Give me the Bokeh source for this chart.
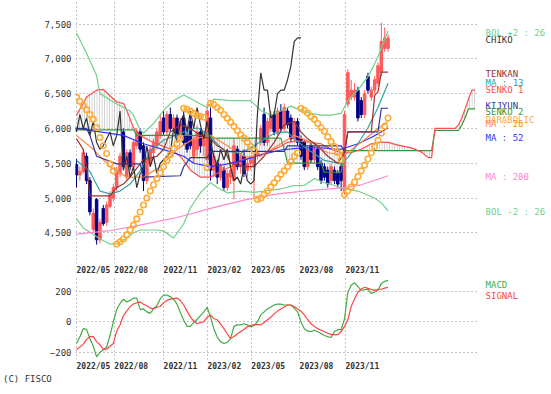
from bokeh.plotting import figure
from bokeh.models import Range1d, FixedTicker, NumeralTickFormatter, Label, ColumnDataSource, Div
from bokeh.layouts import column
from bokeh.embed import file_html
from bokeh.resources import INLINE

# ---------------- data ----------------
date_pos = [0, 11.3, 26, 39.1, 52.2, 66.6, 80.3]
date_labels = ["2022/05", "2022/08", "2022/11", "2023/02", "2023/05", "2023/08", "2023/11"]
price_ticks = [4500, 5000, 5500, 6000, 6500, 7000, 7500]
macd_ticks = [-200, 0, 200]

opens = [5480, 5330, 5380, 5600, 5250, 4550, 4980, 4400, 4850, 4650, 4880, 5000, 5150, 5350, 5950, 5300,
         5650, 5450, 5750, 5950, 5750, 5250, 5500, 5650, 5750, 5900, 6150, 5950, 6200, 6000, 6150, 5900,
         6150, 5900, 6100, 5600, 5700, 5950, 5750, 5550, 6150, 5400, 5500, 5300, 5400, 5150, 5300, 5250,
         5700, 5450, 5600, 5400, 5500, 5450, 5600, 5800, 6200, 5800, 6000, 6200, 5950, 6250, 6000, 6250,
         6150, 5850, 6100, 5850, 5800, 5450, 5750, 5550, 5700, 5500, 5450, 5400, 5250, 5400, 5350, 5450,
         5100, 6350, 6450, 6450, 6550, 6400, 6200, 6750, 6450, 6550, 6650, 6800, 7150, 7150]
highs = [5560, 5450, 5700, 5650, 5300, 4850, 5000, 4700, 4900, 4950, 5100, 5200, 5450, 5650, 6000, 5700,
         5700, 5850, 6000, 6000, 5800, 5600, 5750, 5850, 6000, 6200, 6250, 6250, 6300, 6200, 6200, 6150,
         6250, 6000, 6200, 5900, 6050, 6000, 5950, 6350, 6300, 5650, 5550, 5500, 5450, 5400, 5450, 5850,
         5750, 5650, 5700, 5550, 5600, 5650, 5700, 6050, 6300, 6150, 6250, 6250, 6300, 6350, 6360, 6300,
         6200, 6150, 6150, 5900, 5850, 5750, 5800, 5750, 5750, 5550, 5500, 5450, 5500, 5450, 5400, 5500,
         6250, 6850, 6700, 6650, 6600, 6450, 6550, 6800, 6600, 6750, 6950, 7520, 7450, 7350]
lows = [5150, 5250, 5350, 5200, 4750, 4500, 4330, 4350, 4600, 4600, 4850, 4950, 5100, 5300, 5400, 5250,
        5400, 5400, 5700, 5650, 5100, 5200, 5450, 5600, 5700, 5850, 5900, 5900, 5950, 5950, 5850, 5850,
        5750, 5650, 5700, 5500, 5600, 5650, 5600, 5500, 5250, 5300, 5200, 5250, 5100, 5100, 5200, 4980,
        5400, 5350, 5300, 5300, 5400, 5000, 5550, 5750, 5750, 5750, 5950, 5900, 5900, 5950, 5950, 6000,
        5800, 5800, 5750, 5550, 5400, 5400, 5500, 5500, 5400, 5200, 5250, 5150, 5200, 5200, 5150, 5100,
        5050, 6300, 6400, 6400, 6100, 6150, 6150, 6500, 6400, 6500, 6600, 6750, 7100, 7100]
closes = [5330, 5380, 5650, 5250, 4800, 4780, 4400, 4650, 4630, 4900, 5050, 5150, 5400, 5600, 5450, 5650,
          5450, 5800, 5950, 5700, 5250, 5550, 5700, 5800, 5950, 6100, 5950, 6200, 6000, 6150, 5900, 6100,
          5800, 5700, 5750, 5850, 5950, 5750, 5900, 6250, 5400, 5600, 5300, 5450, 5150, 5350, 5400, 5750,
          5450, 5600, 5350, 5500, 5550, 5600, 5650, 6000, 5800, 6100, 6200, 5950, 6250, 6000, 6300, 6050,
          5850, 6100, 5800, 5600, 5450, 5700, 5550, 5700, 5450, 5250, 5300, 5200, 5450, 5250, 5200, 5250,
          6200, 6800, 6550, 6550, 6150, 6200, 6500, 6550, 6550, 6700, 6900, 7250, 7300, 7300]

parabolic = [6450, 6390, 6330, 6270, 6200, 6130, 6010, 5870, 5750, 5640, 5490, 5390,
             4340, 4370, 4410, 4470, 4540, 4610, 4700, 4800, 4900, 5000, 5100, 5190, 5280, 5360, 5450, 5540,
             5620, 5710, 5780, 5860,
             6290, 6275, 6245, 6215, 6190, 6175, 6160,
             5440,
             6360, 6345, 6300, 6260, 6200, 6145, 6090, 6030, 5970, 5910, 5860, 5800, 5740, 5680,
             4980, 5000, 5050, 5100, 5160, 5220, 5280, 5340, 5390, 5450, 5520, 5600, 5650,
             6290, 6260, 6220, 6170, 6130, 6070, 6010, 5960, 5880, 5810, 5740, 5650, 5550,
             5050, 5100, 5160, 5230, 5310, 5390, 5470, 5560, 5650, 5740, 5830, 5930, 6030, 6150]

bol_up_idx = [0, 3, 6, 7, 9, 11, 14, 16, 17, 19, 20, 23, 26, 29, 32, 34, 37, 39, 41, 46, 52, 55, 58, 61,
              64, 67, 70, 73, 76, 79, 81, 84, 87, 90, 92, 93]
bol_up = [7370, 7080, 6760, 6500, 6440, 6380, 6300, 6250, 6190, 5980, 5930, 6070, 6260, 6400, 6480, 6430,
          6350, 6300, 6420, 6400, 6400, 6260, 6190, 6250, 6320, 6260, 6215, 6190, 6190, 6215, 6400, 6550,
          6740, 7030, 7280, 7400]
bol_dn_idx = [0, 2, 5, 7, 10, 12, 15, 17, 19, 24, 26, 29, 32, 34, 36, 37, 40, 42, 45, 49, 53, 61, 65, 68,
              71, 74, 77, 80, 84, 89, 91, 93]
bol_dn = [4700, 4570, 4480, 4410, 4340, 4340, 4425, 4500, 4540, 4540, 4525, 4425, 4630, 4860, 5000, 5075,
          5220, 5150, 5075, 5100, 5080, 5130, 5180, 5180, 5280, 5220, 5180, 5130, 5100, 5000, 4930, 4815]
ma200_idx = [0, 10, 20, 30, 40, 50, 60, 70, 80, 85, 90, 93]
ma200 = [4480, 4530, 4620, 4720, 4850, 4970, 5060, 5110, 5150, 5190, 5270, 5320]
ma52_idx = [0, 7, 14, 20, 27, 32, 35, 40, 44, 49, 55, 61, 67, 73, 79, 84, 88, 91, 93]
ma52 = [6000, 5950, 5900, 5780, 5680, 5600, 5500, 5450, 5480, 5530, 5620, 5690, 5720, 5720, 5700, 5780,
        5870, 5950, 6010]
ma26_idx = [0, 5, 10, 15, 20, 25, 30, 35, 40, 45, 50, 55, 60, 65, 70, 75, 80, 85, 90, 93]
ma26 = [5900, 5700, 5450, 5300, 5300, 5450, 5700, 5850, 5900, 5750, 5600, 5600, 5750, 5900, 5800, 5650,
        5620, 5800, 6000, 6100]
ma13_idx = [0, 4, 7, 10, 13, 16, 19, 22, 26, 31, 36, 39, 44, 49, 54, 59, 63, 65, 69, 74, 79, 81, 84, 87,
            90, 93]
ma13 = [5540, 5380, 5100, 5060, 5100, 5200, 5390, 5680, 5830, 5930, 6010, 5930, 5680, 5640, 5780, 5930,
        5950, 5850, 5700, 5540, 5490, 5580, 5780, 6010, 6300, 6650]
tenkan_idx = [0, 2, 3, 4, 10, 12, 14, 16, 18, 20, 24, 26, 28, 31, 34, 37, 40, 42, 44, 46, 50, 53, 56, 59,
              62, 65, 67, 69, 72, 75, 78, 80, 81, 88, 89, 90, 91, 93]
tenkan = [5850, 5700, 5450, 5030, 5030, 5150, 5200, 5300, 5430, 5550, 5600, 5700, 5950, 6050, 6000, 5900,
          5850, 5750, 5700, 5500, 5450, 5450, 5600, 5800, 6050, 6100, 5950, 5850, 5750, 5600, 5500, 5650,
          5950, 5950, 6475, 6525, 6810, 6810]
kijyun_idx = [0, 3, 4, 6, 12, 19, 20, 31, 32, 34, 39, 40, 62, 63, 79, 80, 81, 90, 91, 93]
kijyun = [6000, 6000, 5900, 5600, 5490, 5490, 5300, 5320, 5450, 5580, 5580, 5670, 5670, 5750, 5750, 5660,
          5950, 5950, 6290, 6290]
senko1_idx = [0, 3, 6, 8, 12, 14, 15, 17, 19, 22, 25, 28, 31, 34, 37, 40, 43, 46, 50, 55, 60, 63, 66, 70,
              73, 76, 79, 82, 85, 88, 90, 93, 96, 100, 103, 105, 106, 107, 113, 114, 115, 116, 117, 118, 119]
senko1 = [6190, 6450, 6550, 6560, 6380, 6360, 6260, 6010, 5900, 5820, 5760, 5700, 5600, 5400, 5300, 5300,
          5380, 5450, 5560, 5620, 5720, 5800, 5820, 5800, 5780, 5700, 5650, 5650, 5700, 5780, 5800, 5800,
          5760, 5720, 5660, 5580, 5580, 6000, 6000, 6050, 6150, 6280, 6420, 6550, 6550]
senko2_idx = [0, 17, 18, 39, 40, 61, 62, 63, 73, 74, 79, 80, 106, 107, 114, 115, 116, 117, 119]
senko2 = [5980, 5980, 5900, 5900, 5860, 5860, 5700, 5500, 5500, 5370, 5370, 5680, 5680, 5970, 5970, 6050,
          6150, 6280, 6280]

macd = [-142, -100, -45, -50, -110, -160, -230, -200, -185, -165, -90, 0, 80, 120, 148, 130, 140, 155, 155,
        80, 84, 65, 55, 85, 105, 150, 174, 174, 165, 148, 116, 60, 10, -30, -30, -5, 15, 40, 65, 95, 30,
        -45, -100, -130, -142, -135, -110, -30, -20, -20, -13, -20, -32, -25, 0, 45, 65, 84, 97, 110, 116,
        116, 110, 110, 110, 90, 65, 0, -45, -60, -64, -55, -65, -77, -90, -97, -103, -64, -52, -52, 19, 194,
        239, 255, 230, 206, 210, 213, 185, 195, 206, 250, 265, 271]
signal = [-181, -165, -148, -115, -97, -97, -130, -150, -181, -178, -160, -142, -60, -19, 40, 70, 100, 116,
          125, 129, 115, 105, 90, 85, 95, 100, 125, 140, 148, 152, 155, 140, 110, 70, 32, 5, -13, -5, 0, 30,
          45, 20, 13, -15, -45, -80, -110, -97, -80, -64, -50, -32, -25, -19, -19, -19, -5, 13, 30, 52, 70,
          84, 97, 110, 110, 100, 84, 70, 45, 15, -13, -30, -45, -55, -64, -75, -84, -84, -84, -64, -30, 13,
          100, 150, 194, 215, 226, 219, 212, 206, 213, 213, 220, 226]

label_texts = ["BOL +2 : 26", "CHIKO", "TENKAN", "MA : 13", "SENKO 1", "KIJYUN", "SENKO 2",
               "PARABOLIC", "MA : 26", "MA : 52", "MA : 200", "BOL -2 : 26"]

# ---------------- styles ----------------
C_BOL = "#6fd08c"
C_CHIKO = "#333333"
C_TENKAN = "#993333"
C_MA13 = "#33a3a3"
C_SENKO1 = "#ff4d4d"
C_KIJYUN = "#333399"
C_SENKO2 = "#339933"
C_PARA = "#ffaa33"
C_MA26 = "#ff8844"
C_MA52 = "#3333ff"
C_MA200 = "#ff88cc"
C_UP = "#ff5a5a"
C_DN = "#000088"
label_colors = [C_BOL, C_CHIKO, C_TENKAN, C_MA13, C_SENKO1, C_KIJYUN, C_SENKO2, C_PARA, C_MA26, C_MA52,
                C_MA200, C_BOL]
label_y = [7364, 7277, 6789, 6659, 6545, 6315, 6243, 6114, 6070, 5869, 5295, 4792]
MONO = "DejaVu Sans Mono"

PX = 3.35                 # pixels per week
X0 = -0.3                 # left edge of plotting area
GRID_END = 119.7          # right end of the grid
FRAME_W = 476
X1 = X0 + FRAME_W / PX
LABEL_X = 122.1
DATE_FONT = 8
DATE_OFF = 0.602 * DATE_FONT * 7 / 2 / PX   # shift so label starts at grid line

n = len(closes)
idx = list(range(n))


def style(fig, yticks, fmt=None):
    fig.outline_line_color = None
    fig.background_fill_color = "white"
    fig.border_fill_color = "white"
    ax_ticks = [d + DATE_OFF for d in date_pos]
    fig.xaxis.ticker = FixedTicker(ticks=ax_ticks)
    fig.xaxis.major_label_overrides = {k: v for k, v in zip(ax_ticks, date_labels)}
    fig.xaxis.major_label_standoff = 2
    fig.yaxis.ticker = FixedTicker(ticks=yticks)
    if fmt:
        fig.yaxis.formatter = fmt
    fig.yaxis.major_label_standoff = 4
    for ax in (fig.xaxis[0], fig.yaxis[0]):
        ax.axis_line_color = None
        ax.major_tick_line_color = None
        ax.minor_tick_line_color = None
        ax.major_tick_out = 0
        ax.major_tick_in = 0
        ax.major_label_text_font = MONO
        ax.major_label_text_color = "#333333"
    fig.xaxis.major_label_text_font_size = "%dpx" % DATE_FONT
    fig.xaxis.major_label_text_font_style = "bold"
    fig.yaxis.major_label_text_font_size = "9px"
    fig.xgrid.ticker = FixedTicker(ticks=date_pos)
    fig.ygrid.ticker = FixedTicker(ticks=yticks)
    for g in (fig.xgrid[0], fig.ygrid[0]):
        g.grid_line_color = "#888888"
        g.grid_line_dash = "1 3"
        g.grid_line_width = 1
    try:
        fig.ygrid[0].cross_bounds = (X0, GRID_END)
    except Exception:
        fig.ygrid[0].grid_line_color = None
        for t in yticks:
            fig.line([X0, GRID_END], [t, t], color="#888888", line_dash="1 3", line_width=1)


p = figure(frame_width=FRAME_W, frame_height=263, x_range=Range1d(X0, X1), y_range=Range1d(4059, 7838),
           output_backend="svg", toolbar_location=None,
           min_border_left=75, min_border_right=0, min_border_top=0, min_border_bottom=12)
style(p, price_ticks, NumeralTickFormatter(format="0,0"))

# cloud hatching
cloud_x = senko1_idx + senko2_idx[::-1]
cloud_y = senko1 + senko2[::-1]
p.patch(cloud_x, cloud_y, fill_color=None, line_color=None,
        hatch_pattern="vertical_line", hatch_color="#c8c8c8", hatch_scale=2.5, hatch_weight=1)

# candles
cols = [C_UP if c >= o else C_DN for o, c in zip(opens, closes)]
src = ColumnDataSource(dict(x=idx, o=opens, h=highs, l=lows, c=closes, col=cols,
                            top=[max(o, c) for o, c in zip(opens, closes)],
                            bot=[min(o, c) for o, c in zip(opens, closes)]))
p.segment(x0="x", y0="l", x1="x", y1="h", color="col", line_width=1, source=src)
p.vbar(x="x", width=0.75, top="top", bottom="bot", fill_color="col", line_color="col", source=src)

# lines
p.line(senko2_idx, senko2, color=C_SENKO2, line_width=1.2)
p.line(senko1_idx, senko1, color=C_SENKO1, line_width=1.2)
p.line(bol_up_idx, bol_up, color=C_BOL, line_width=1.2)
p.line(bol_dn_idx, bol_dn, color=C_BOL, line_width=1.2)
p.line(ma200_idx, ma200, color=C_MA200, line_width=1.2)
p.line(ma52_idx, ma52, color=C_MA52, line_width=1.2)
p.line(ma26_idx, ma26, color=C_MA26, line_width=1.2)
p.line(ma13_idx, ma13, color=C_MA13, line_width=1.2)
p.line(kijyun_idx, kijyun, color=C_KIJYUN, line_width=1.2)
p.line(tenkan_idx, tenkan, color=C_TENKAN, line_width=1.2)
p.line([i - 26 for i in idx], closes, color=C_CHIKO, line_width=1.2)
p.scatter(idx, parabolic, marker="circle", size=5.5, fill_color=None, line_color=C_PARA, line_width=1.6)

for t, c, y in zip(label_texts, label_colors, label_y):
    p.add_layout(Label(x=LABEL_X, y=y, text=t, text_color=c, text_font=MONO, text_font_size="9px",
                       text_baseline="middle"))

# MACD panel
q = figure(frame_width=FRAME_W, frame_height=82, x_range=p.x_range, y_range=Range1d(-247, 290),
           output_backend="svg", toolbar_location=None,
           min_border_left=75, min_border_right=0, min_border_top=0, min_border_bottom=12)
style(q, macd_ticks, None)
q.line(idx, macd, color="#44aa44", line_width=1.2)
q.line(idx, signal, color="#ff4444", line_width=1.2)
q.add_layout(Label(x=LABEL_X, y=238, text="MACD", text_color="#44aa44", text_font=MONO,
                   text_font_size="9px", text_baseline="middle"))
q.add_layout(Label(x=LABEL_X, y=172, text="SIGNAL", text_color="#ff4444", text_font=MONO,
                   text_font_size="9px", text_baseline="middle"))

# copyright line
f = Div(text="(C) FISCO", width=551, height=18,
        styles={"font-family": MONO, "font-size": "9px", "color": "#333333",
                "padding-left": "3px", "padding-top": "1px", "line-height": "11px",
                "margin": "0px"})

layout = column(p, q, f, spacing=0)
open("out.html", "w").write(file_html(layout, INLINE))
